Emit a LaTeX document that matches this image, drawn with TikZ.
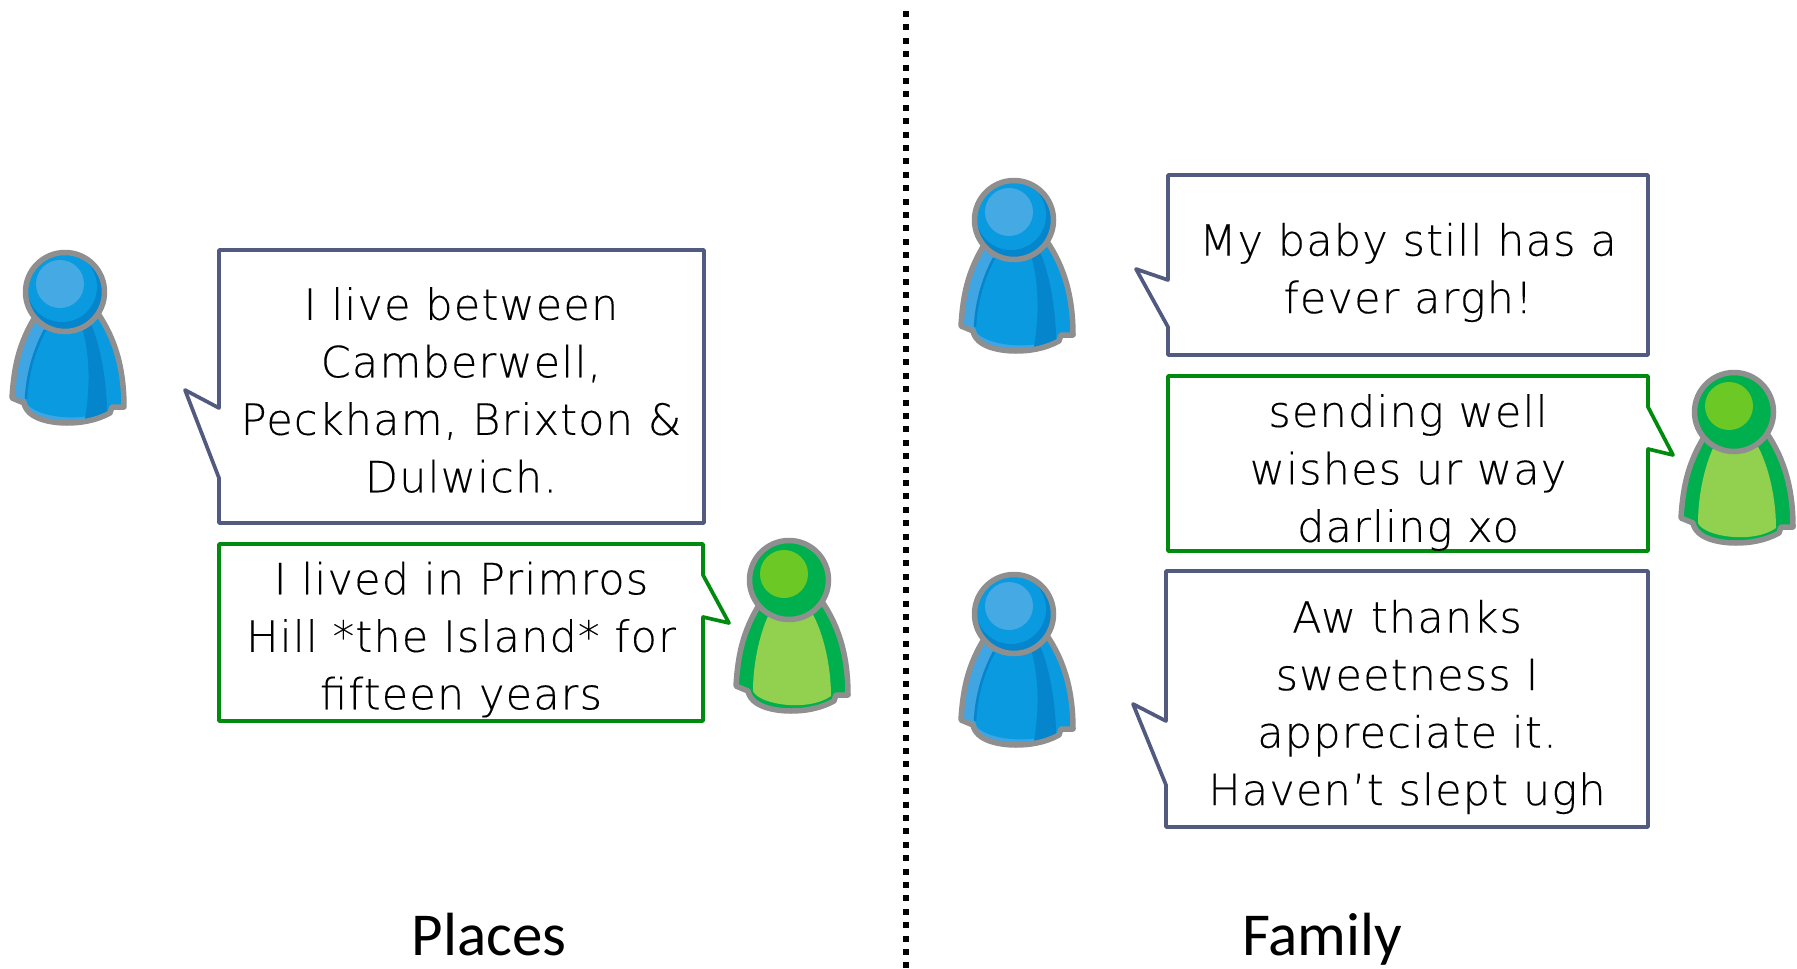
\documentclass[tikz,border=0pt]{standalone}
\usepackage{fontspec}
\setmainfont{Carlito}
\newfontfamily\bubblefont[LetterSpace=2.7,FakeBold=0.25]{DejaVu Sans ExtraLight}
\definecolor{navyline}{HTML}{525A80}
\definecolor{greenline}{HTML}{008A0E}
\definecolor{pgray}{HTML}{8F8F8F}
\definecolor{bbase}{HTML}{3FA5E3}
\definecolor{bmid}{HTML}{0A9ADF}
\definecolor{bdark}{HTML}{0585CC}
\definecolor{bhigh}{HTML}{45A9E4}
\definecolor{gbase}{HTML}{00B04F}
\definecolor{grobe}{HTML}{92D050}
\definecolor{ghigh}{HTML}{6CC825}
\newcommand{\bodyoutline}{(-53,106) .. controls (-51,72) and (-45,50) .. (-30,25) -- (32,20) .. controls (47,42) and (59,70) .. (59,115) -- (47,115) -- (45,121) .. controls (30,129) and (15,131) .. (2,131) .. controls (-14,131) and (-38,127) .. (-41,111) -- cycle}
\tikzset{
  x=1pt,y=-1pt,
  navybubble/.style={draw=navyline,line width=3.7pt,fill=white,line join=round},
  greenbubble/.style={draw=greenline,line width=3.7pt,fill=white,line join=round},
  bubbletext/.style={align=center,inner sep=0pt,font=\bubblefont\fontsize{43}{57.5}\selectfont,text=black},
  titletext/.style={inner sep=0pt,anchor=base,font=\fontsize{61}{61}\selectfont,text=black},
  divider/.style={line width=6pt,dash pattern=on 6pt off 7.4pt},
  outlinestroke/.style={draw=pgray,line width=5.5pt,line join=round},
  bluefigure/.pic={
    \fill[bbase] \bodyoutline;
    \fill[bmid] (-20,38) .. controls (-32,60) and (-38,85) .. (-39,107) -- (-37,113) .. controls (-25,125) and (10,130) .. (42,120) -- (47,115) -- (59,115) .. controls (59,70) and (47,42) .. (32,20) -- cycle;
    \fill[bdark] (17,35) .. controls (24,60) and (26,90) .. (20,127) .. controls (28,126) and (36,124) .. (42,120) .. controls (42,90) and (35,50) .. (25,30) -- cycle;
    \draw[bdark,line width=2.5pt] (-20,38) .. controls (-32,60) and (-38,85) .. (-39,107);
    \draw[outlinestroke] \bodyoutline;
    \fill[bdark] (0,0) circle[radius=38];
    \begin{scope}
      \clip (0,0) circle[radius=38];
      \fill[bmid] (-3,-5) circle[radius=35];
    \end{scope}
    \fill[bhigh] (-5,-8) circle[radius=24];
    \draw[outlinestroke] (0,0) circle[radius=39.5];
  },
  greenfigure/.pic={
    \fill[gbase] \bodyoutline;
    \fill[grobe] (-20,34) .. controls (-30,55) and (-36,85) .. (-36,111) .. controls (-30,125) and (20,132) .. (42,116) .. controls (42,90) and (36,55) .. (22,31) -- cycle;
    \draw[outlinestroke] \bodyoutline;
    \fill[gbase] (0,0) circle[radius=38];
    \fill[ghigh] (-5,-6) circle[radius=24];
    \draw[outlinestroke] (0,0) circle[radius=39.5];
  },
}
\begin{document}
\begin{tikzpicture}
\useasboundingbox (0,0) rectangle (1797,969);
% divider
\coordinate (divtop) at (906,11);
\coordinate (divbot) at (906,969);
\draw[divider] (divtop) -- (divbot);
% figures
\pic (personA) at (65,292) {bluefigure};
\pic (personB) at (789,580) {greenfigure};
\pic (personC) at (1014,220) {bluefigure};
\pic (personD) at (1734,412) {greenfigure};
\pic (personE) at (1014,614) {bluefigure};
% bubbles
\draw[navybubble] (219,250) -- (704,250) -- (704,523) -- (219,523) -- (219,478) -- (185,390) -- (219,408) -- cycle;
\draw[greenbubble] (219,544) -- (703,544) -- (703,575) -- (729,623) -- (703,617) -- (703,721) -- (219,721) -- cycle;
\draw[navybubble] (1168,175) -- (1648,175) -- (1648,355) -- (1168,355) -- (1168,327) -- (1136,269) -- (1168,280) -- cycle;
\draw[greenbubble] (1168,376) -- (1648,376) -- (1648,407) -- (1673,455) -- (1648,449) -- (1648,551) -- (1168,551) -- cycle;
\draw[navybubble] (1166,571) -- (1648,571) -- (1648,827) -- (1166,827) -- (1166,785) -- (1133,704) -- (1166,721) -- cycle;
% texts
\node[bubbletext] (textA) at (461,390) {I live between\\Camberwell,\\Peckham, Brixton \&\\Dulwich.};
\node[bubbletext] (textB) at (461,639.5) {I lived in Primros\\Hill *the Island* for\\fifteen years};
\node[bubbletext] (textC) at (1408,272.5) {My baby still has a\\fever argh!};
\node[bubbletext] (textD) at (1408,472.5) {sending well\\wishes ur way\\darling xo};
\node[bubbletext] (textE) at (1407,707) {Aw thanks\\sweetness I\\appreciate it.\\Haven’t slept ugh};
\node[titletext] (titleA) at (489,955) {Places};
\node[titletext] (titleB) at (1322,955) {Family};
\end{tikzpicture}
\end{document}
